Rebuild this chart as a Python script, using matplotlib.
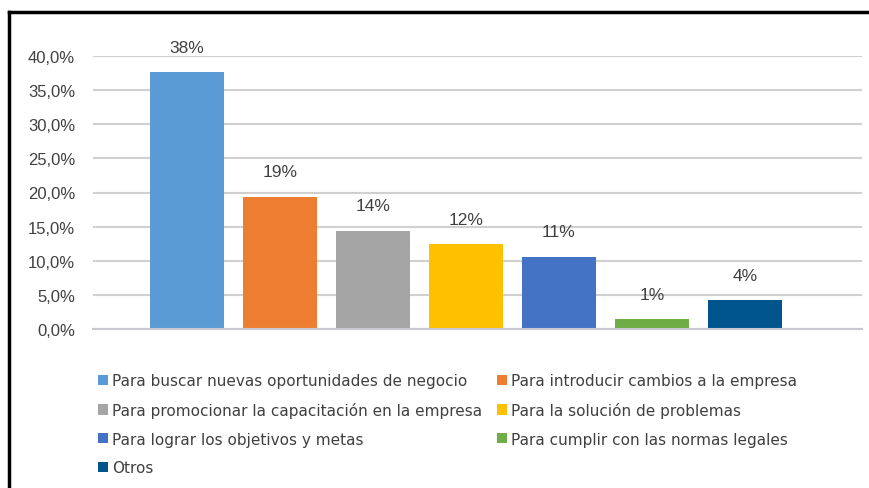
import matplotlib
matplotlib.use("Agg")
import matplotlib.pyplot as plt
from matplotlib.patches import Patch
from matplotlib.lines import Line2D

categories = [
    "Para buscar nuevas oportunidades de negocio",
    "Para introducir cambios a la empresa",
    "Para promocionar la capacitación en la empresa",
    "Para la solución de problemas",
    "Para lograr los objetivos y metas",
    "Para cumplir con las normas legales",
    "Otros",
]
values = [37.6, 19.4, 14.4, 12.4, 10.6, 1.4, 4.2]
bar_labels = ["38%", "19%", "14%", "12%", "11%", "1%", "4%"]
colors = ["#5B9BD5", "#ED7D31", "#A5A5A5", "#FFC000", "#4472C4", "#70AD47", "#00558C"]
yticks = [0, 5, 10, 15, 20, 25, 30, 35, 40]
ytick_labels = ["0,0%", "5,0%", "10,0%", "15,0%", "20,0%", "25,0%", "30,0%", "35,0%", "40,0%"]

W, H, DPI = 869, 489, 100
fig = plt.figure(figsize=(W / DPI, H / DPI), dpi=DPI)
ax = fig.add_axes([93 / W, 1 - 330 / H, (862 - 93) / W, (330 - 57) / H])

x = list(range(len(values)))
ax.bar(x, values, width=0.8, color=colors, zorder=3)
for xi, v, lab in zip(x, values, bar_labels):
    ax.annotate(lab, (xi, v), xytext=(0, 18), textcoords="offset points",
                ha="center", va="center", fontsize=12.5, color="#404040",
                family="Liberation Sans", annotation_clip=False)

ax.set_ylim(0, 40)
ax.set_xlim(-1.01, 7.26)
ax.set_yticks(yticks)
ax.set_yticklabels(ytick_labels, family="Liberation Sans", fontsize=12, color="#404040")
ax.set_xticks([])
ax.tick_params(axis="y", length=0, pad=13)
ax.grid(axis="y", color="#D0D0D0", linewidth=1.5, zorder=0)
for s in ["top", "right", "left"]:
    ax.spines[s].set_visible(False)
ax.spines["bottom"].set_color("#C8C8D0")
ax.spines["bottom"].set_linewidth(1.5)
ax.spines["bottom"].set_zorder(4)

# legend filled row-wise in the reference: reorder for column-major filling
order = [0, 2, 4, 6, 1, 3, 5]
handles = [Patch(facecolor=colors[i], edgecolor="none") for i in order]
labels = [categories[i] for i in order]
leg = fig.legend(handles, labels, ncol=2, loc="upper left",
                 bbox_to_anchor=(92 / W, 1 - 368 / H), frameon=False,
                 prop={"family": "DejaVu Sans", "size": 11},
                 handlelength=0.65, handleheight=0.65, handletextpad=0.25,
                 columnspacing=1.0, labelspacing=0.9, borderaxespad=0)
for t in leg.get_texts():
    t.set_color("#404040")

# black frame (extends past right and bottom edges)
fig.add_artist(Line2D([9 / W, 9 / W], [1 - 13 / H, -0.05], color="black", linewidth=2.5,
                      transform=fig.transFigure))
fig.add_artist(Line2D([9 / W, 1.05], [1 - 13 / H, 1 - 13 / H], color="black", linewidth=2.5,
                      transform=fig.transFigure))

fig.savefig("out.png", dpi=DPI)
